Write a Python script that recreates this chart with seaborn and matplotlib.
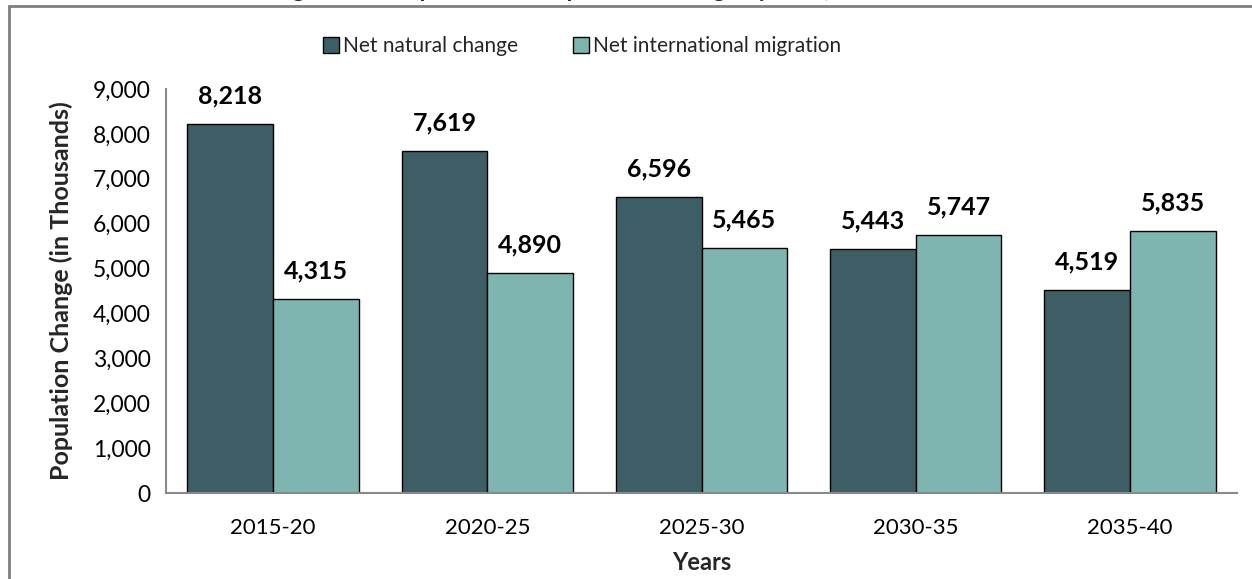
import matplotlib
matplotlib.use("Agg")
import matplotlib.pyplot as plt
import matplotlib.patches as mpatches
import seaborn as sns
import pandas as pd
import numpy as np

periods = ["2015-20", "2020-25", "2025-30", "2030-35", "2035-40"]
series_names = ["Net natural change", "Net international migration"]
natural_change = [8218, 7619, 6596, 5443, 4519]
intl_migration = [4315, 4890, 5465, 5747, 5835]
y_ticks = [0, 1000, 2000, 3000, 4000, 5000, 6000, 7000, 8000, 9000]
title = "Figure 1. Components of Population Change by Year, 2015-2040"

colors = ["#3D5E64", "#7FB5B0"]

df = pd.DataFrame({
    "Years": periods * 2,
    "Value": natural_change + intl_migration,
    "Series": [series_names[0]] * len(periods) + [series_names[1]] * len(periods),
})

sns.set_theme(style="white")
plt.rcParams["font.family"] = ["Lato", "DejaVu Sans"]

W, H = 1252, 579
fig = plt.figure(figsize=(W / 100, H / 100), dpi=100)
ax = fig.add_axes([166 / W, 1 - 493 / H, (1237 - 166) / W, (493 - 89) / H])

sns.barplot(data=df, x="Years", y="Value", hue="Series", palette=colors,
            width=0.8, edgecolor="black", linewidth=1.0, ax=ax, legend=False,
            saturation=1)

ax.set_ylim(0, 9000)
ax.set_xlim(-0.5, len(periods) - 0.5)
ax.set_yticks(y_ticks)
ax.set_yticklabels([f"{v:,}" for v in y_ticks], fontsize=16.5, color="black")
ax.set_xticks(range(len(periods)))
ax.set_xticklabels(periods, fontsize=16, color="black")
ax.tick_params(axis="x", which="major", length=0, pad=18)
ax.set_xticks(np.arange(-0.5, len(periods), 1.0), minor=True)
ax.tick_params(axis="x", which="minor", length=7, width=1.2, color="#898989", direction="out")
ax.tick_params(axis="y", length=5, width=1.2, color="#898989", direction="out", pad=6)

for s in ["top", "right"]:
    ax.spines[s].set_visible(False)
for s in ["left", "bottom"]:
    ax.spines[s].set_color("#898989")
    ax.spines[s].set_linewidth(1.5)

ax.set_xlabel("Years", fontsize=17, fontweight="bold", labelpad=9)
ax.set_ylabel("Population Change (in Thousands)", fontsize=18, fontweight="bold", labelpad=14)

for cont in ax.containers:
    for bar in cont:
        h = bar.get_height()
        ax.annotate(f"{int(round(h)):,}", (bar.get_x() + bar.get_width() / 2, h),
                    xytext=(0, 12), textcoords="offset points", ha="center", va="bottom",
                    fontsize=18, fontweight="bold", color="black")

handles = [mpatches.Patch(facecolor=c, edgecolor="black", linewidth=1.0) for c in colors]
fig.legend(handles, series_names, loc="center", bbox_to_anchor=(582 / W, 1 - 46 / H),
           ncol=2, frameon=False, fontsize=15, handlelength=0.8, handleheight=0.8,
           handletextpad=0.2, columnspacing=2.6, borderaxespad=0)

fig.text(0.49, 1 + 3 / H, title, ha="center", va="baseline", fontsize=17, fontweight="bold")

frame = mpatches.Rectangle((9 / W, -0.1), 1.2, 1.1 - 6.5 / H, transform=fig.transFigure,
                           fill=False, edgecolor="#808080", linewidth=2, clip_on=False)
fig.add_artist(frame)

fig.savefig("out.png", dpi=100)
